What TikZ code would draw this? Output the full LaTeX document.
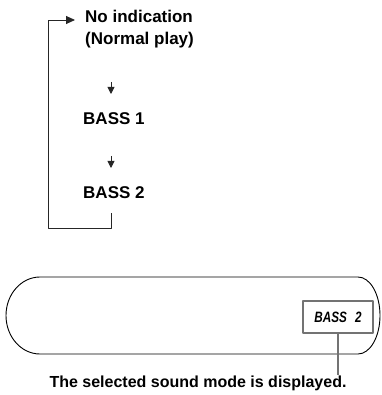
\documentclass[tikz,border=0pt]{standalone}
\usepackage{fontspec}
\setmainfont{Liberation Sans}
\newfontfamily\lcdfont[FakeStretch=0.78]{Liberation Sans}
\usetikzlibrary{arrows.meta}

\begin{document}
\begin{tikzpicture}[x=1pt,y=-1pt,line join=round]
  \tikzset{
    lbl/.style={font=\fontsize{17}{20}\selectfont\bfseries,anchor=base west,inner sep=0pt},
    flow/.style={black!85,line width=0.9pt},
    bigtip/.style={-{Triangle[length=9pt,width=8pt]}},
    smalltip/.style={-{Triangle[length=7pt,width=7pt]}},
    lcdbox/.style={draw=black!55,line width=2pt,minimum width=70pt,minimum height=32pt,inner sep=0pt,
      font=\lcdfont\fontsize{15}{17}\selectfont\bfseries\itshape}
  }
  \useasboundingbox (0,0) rectangle (381,395);
  % mode sequence
  \node[lbl] (noind) at (85,23) {No indication};
  \node[lbl] (normal) at (85,45) {(Normal play)};
  \node[lbl] (bass1) at (83,125) {BASS 1};
  \node[lbl] (bass2) at (83,198) {BASS 2};
  \coordinate (A1s) at (111,82);
  \coordinate (A1e) at (111,94);
  \coordinate (A2s) at (111,156);
  \coordinate (A2e) at (111,168);
  \draw[flow,smalltip] (A1s) -- (A1e);
  \draw[flow,smalltip] (A2s) -- (A2e);
  % return loop
  \coordinate (L0) at (111,213);
  \coordinate (L1) at (111,228);
  \coordinate (L2) at (48,228);
  \coordinate (L3) at (48,20);
  \coordinate (L4) at (75,20);
  \draw[flow,bigtip] (L0) -- (L1) -- (L2) -- (L3) -- (L4);
  % display window
  \draw[black,line width=0.9pt] (40,277) -- (358,277)
    arc[start angle=-90,end angle=90,x radius=22,y radius=38.5]
    -- (40,354)
    arc[start angle=90,end angle=270,x radius=34,y radius=38.5] -- cycle;
  \node[lcdbox] (disp) at (338,317) {BASS\hspace{0.55em}2};
  \node[font=\fontsize{16}{19}\selectfont\bfseries,anchor=base,inner sep=0pt] (cap) at (198,387)
    {The selected sound mode is displayed.};
  \coordinate (C1) at (disp.south |- 0,375);
  \draw[black!55,line width=2pt] (disp.south) -- (C1);
\end{tikzpicture}
\end{document}
